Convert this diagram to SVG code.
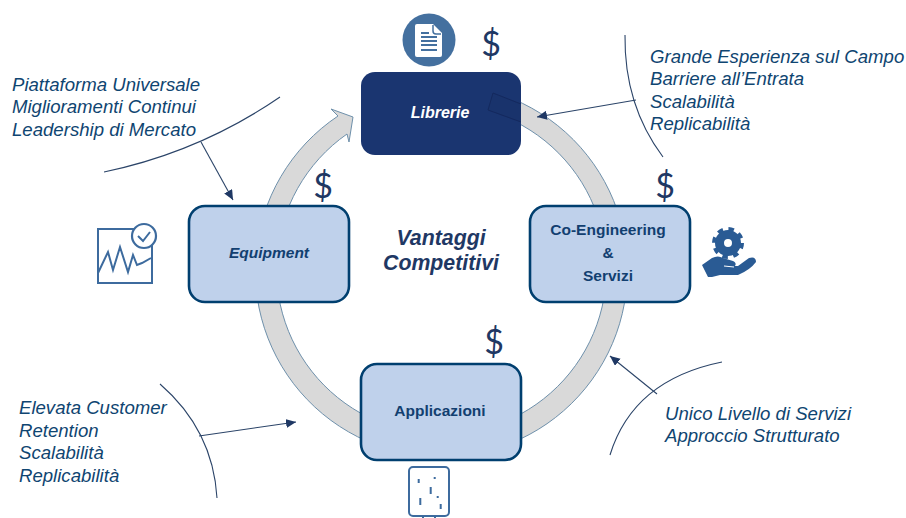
<svg xmlns="http://www.w3.org/2000/svg" width="906" height="518" viewBox="0 0 906 518">
<style>
text{font-family:"Liberation Sans",Arial,sans-serif}
.box{fill:#BFD1EB;stroke:#003F6F;stroke-width:2.6}
.nl{font-size:15.5px;font-weight:bold;fill:#123F70;text-anchor:middle}
.note{font-size:18.6px;font-style:italic;fill:#0F4571}
.dollar{font-size:34px;fill:#1F3864;text-anchor:middle;font-family:Lato,"Liberation Sans",sans-serif;font-weight:400}
.curve{fill:none;stroke:#2B4468;stroke-width:1.1}
.lead{fill:none;stroke:#2B4468;stroke-width:1.1;marker-end:url(#ah)}
.ic{fill:none;stroke:#3D6B9E;stroke-width:2}
</style>
<defs>
<marker id="ah" markerUnits="userSpaceOnUse" markerWidth="12" markerHeight="10" refX="10" refY="4.5" orient="auto"><path d="M0 0L10 4.500L0 9Z" fill="#1F3864"/></marker>
</defs>
<rect width="906" height="518" fill="#fff"/>
<g id="connectors">
<path id="ring" d="M493 92A186 186 0 1 1 338 116L331 109L353 117L349 142L347 134A165 165 0 1 0 488 111Z" fill="#D9D9D9" stroke="#6E90AB" stroke-width="1"/>
<path class="curve" d="M104 172Q200 152 280 97"/>
<path class="lead" d="M201 142L233 200"/>
<path class="curve" d="M625 35Q624 105 663 157"/>
<path class="lead" d="M636 100L537 117"/>
<path class="curve" d="M722 362Q633 380 610 455"/>
<path class="lead" d="M657 394L610 356"/>
<path class="curve" d="M160 384Q213 430 217 498"/>
<path class="lead" d="M199 436L296 422"/>
</g>
<g id="librerie">
<rect x="361" y="72" width="160" height="83" rx="14" fill="#1A3570"/>
<path d="M521 104L493 93L488 110L521 122" fill="#19336C" stroke="#14295E" stroke-width="1"/>
<text x="440" y="118" font-size="16px" font-weight="bold" font-style="italic" fill="#fff" text-anchor="middle">Librerie</text>
</g>
<g id="equipment">
<rect class="box" x="189" y="206" width="160" height="96" rx="16"/>
<text class="nl" x="269" y="258" font-style="italic">Equipment</text>
</g>
<g id="coeng">
<rect class="box" x="530" y="206" width="160" height="96" rx="16"/>
<text class="nl" x="608" y="235">Co-Engineering</text>
<text class="nl" x="608" y="258">&amp;</text>
<text class="nl" x="608" y="281">Servizi</text>
</g>
<g id="applicazioni">
<rect class="box" x="361" y="364" width="160" height="96" rx="16"/>
<text class="nl" x="440" y="416">Applicazioni</text>
</g>
<g id="center">
<text x="441" y="245" font-size="21.300px" font-weight="bold" font-style="italic" fill="#1F3864" text-anchor="middle">Vantaggi</text>
<text x="441" y="270" font-size="21.300px" font-weight="bold" font-style="italic" fill="#1F3864" text-anchor="middle">Competitivi</text>
</g>
<g id="dollars">
<text class="dollar" x="491" y="56">$</text>
<text class="dollar" x="323" y="198">$</text>
<text class="dollar" x="665" y="198">$</text>
<text class="dollar" x="494" y="354">$</text>
</g>
<g id="note-tl">
<text class="note" x="12" y="91">Piattaforma Universale</text>
<text class="note" x="12" y="113">Miglioramenti Continui</text>
<text class="note" x="12" y="136">Leadership di Mercato</text>
</g>
<g id="note-tr">
<text class="note" x="650" y="63">Grande Esperienza sul Campo</text>
<text class="note" x="650" y="85">Barriere all’Entrata</text>
<text class="note" x="650" y="108">Scalabilità</text>
<text class="note" x="650" y="130">Replicabilità</text>
</g>
<g id="note-br">
<text class="note" x="665" y="420">Unico Livello di Servizi</text>
<text class="note" x="665" y="442">Approccio Strutturato</text>
</g>
<g id="note-bl">
<text class="note" x="19" y="414">Elevata Customer</text>
<text class="note" x="19" y="437">Retention</text>
<text class="note" x="19" y="459">Scalabilità</text>
<text class="note" x="19" y="482">Replicabilità</text>
</g>
<g id="icon-doc">
<circle cx="429" cy="40" r="26.500" fill="#44709F"/>
<path d="M417 24H433L442 33V55Q442 57 440 57H417Q415 57 415 55V26Q415 24 417 24Z" fill="#fff"/>
<path d="M433 25V31Q433 34 436 34H441" fill="none" stroke="#44709F" stroke-width="1.500"/>
<path d="M421 33H429M421 37H437M421 41H437M421 45H437M421 50H437" stroke="#44709F" stroke-width="2" fill="none"/>
</g>
<g id="icon-chart">
<rect class="ic" x="98" y="229" width="54" height="54" stroke-width="2.500"/>
<path class="ic" stroke-width="2.500" d="M98 273L108 252L113 270L120 247L128 272L133 255L137 265L142 263L151 258"/>
<circle cx="144" cy="236" r="12" fill="#fff" stroke="#3D6B9E" stroke-width="2.200"/>
<path class="ic" stroke-width="2.200" d="M138 236L143 241L150 232"/>
</g>
<g id="icon-gear">
<circle cx="728" cy="243" r="8.500" fill="none" stroke="#2A5B94" stroke-width="9"/>
<circle cx="728" cy="243" r="14" fill="none" stroke="#2A5B94" stroke-width="4" stroke-dasharray="5.500 5.500"/>
<path d="M702 265L712 258Q718 255 723 258L733 261Q737 263 735 266L738 266L749 258Q756 256 756 262Q750 270 738 275L720 275L712 277L708 277Z" fill="#2A5B94"/>
<path d="M724 266L734 267" stroke="#fff" stroke-width="1" fill="none"/>
</g>
<g id="icon-chip">
<rect class="ic" x="409" y="467" width="40" height="49" rx="4"/>
<path d="M423 516V518M435 516V518" stroke="#3D6B9E" stroke-width="2"/>
<path d="M418.700 479V483M434.700 477V479M430.700 487V494M437.700 496V498M420.300 498V505M440.700 504V509" stroke="#3D6B9E" stroke-width="2" fill="none"/>
</g>
</svg>
